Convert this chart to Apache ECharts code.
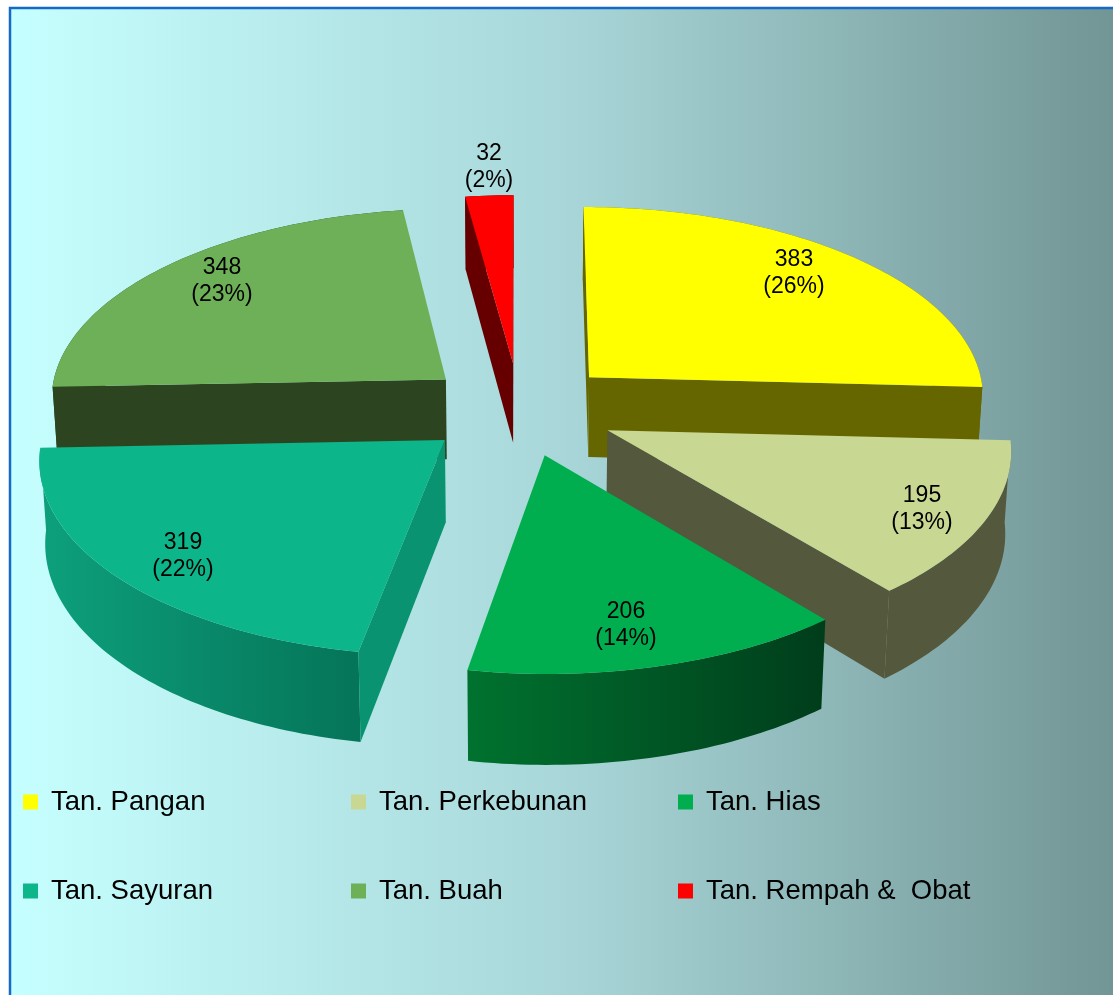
<!DOCTYPE html>
<html>
<head>
<meta charset="utf-8">
<style>
  html, body { margin: 0; padding: 0; background: #fff; }
  #chart { width: 1113px; height: 995px; }
</style>
<script src="https://cdn.jsdelivr.net/npm/echarts@6/dist/echarts.min.js"></script>
</head>
<body>
<div id="chart"></div>
<script>
const categories = ['Tan. Pangan', 'Tan. Perkebunan', 'Tan. Hias', 'Tan. Sayuran', 'Tan. Buah', 'Tan. Rempah &  Obat'];
const values = [383, 195, 206, 319, 348, 32];

const topColors = ['#ffff00', '#c8d792', '#00ae4f', '#0cb58a', '#6db058', '#ff0000'];
const radialColors = ['#666600', '#54583c', '#005c2a', '#0a9370', '#2c4520', '#660000'];
const wallLeft = ['#666600', '#54583c', '#00722f', '#0da07c', '#2c4520', '#660000'];
const wallRight = ['#666600', '#54583c', '#003d1b', '#057458', '#2c4520', '#660000'];
// back to front
const drawOrder = [5, 0, 4, 1, 3, 2];
const labelCenters = [[794, 273], [922, 509], [626, 625], [183, 556], [222, 281], [489, 167]];
const legendCells = [[23, 788], [351, 788], [678, 788], [23, 877], [351, 877], [678, 877]];

// perspective of the pie: unit radius disc seen from above
const cam = { cx: 519.5, cy: 409, sx: 397.5, sy: 190.7, depth: 0.0886, height: 81, shrink: 0.012, explode: 0.245 };
const fontFamily = '"Liberation Sans", Arial, sans-serif';

const total = values.reduce(function (a, b) { return a + b; }, 0);

function project(x, y, bottom) {
  const w = 1 + cam.depth * y;
  // the bottom face only narrows sideways
  const wx = w + (bottom ? cam.shrink : 0);
  return [
    cam.cx + cam.sx * x / wx,
    cam.cy - (cam.sy * y - (bottom ? cam.height : 0)) / w
  ];
}

function sliceAngles(idx) {
  let before = 0;
  for (let i = 0; i < idx; i++) before += values[i];
  return [before / total * Math.PI * 2, (before + values[idx]) / total * Math.PI * 2];
}

function renderSlice(idx, value) {
  const ang = sliceAngles(idx);
  const mid = (ang[0] + ang[1]) / 2;
  const ox = cam.explode * Math.sin(mid);
  const oy = cam.explode * Math.cos(mid);

  const rimTop = [];
  const rimBottom = [];
  const steps = Math.max(4, Math.ceil((ang[1] - ang[0]) / 0.02));
  for (let i = 0; i <= steps; i++) {
    const a = ang[0] + (ang[1] - ang[0]) * i / steps;
    const x = ox + Math.sin(a);
    const y = oy + Math.cos(a);
    rimTop.push(project(x, y, false));
    rimBottom.push(project(x, y, true));
  }
  const apexTop = project(ox, oy, false);
  const apexBottom = project(ox, oy, true);

  const children = [];
  children.push({
    type: 'polygon',
    shape: { points: rimTop.concat(rimBottom.slice().reverse()) },
    style: {
      fill: new echarts.graphic.LinearGradient(0, 0, 1, 0, [
        { offset: 0, color: wallLeft[idx] },
        { offset: 1, color: wallRight[idx] }
      ])
    }
  });

  // radial walls, only the ones turned to the viewer
  const startDx = rimTop[0][0] - apexTop[0];
  const endDx = rimTop[steps][0] - apexTop[0];
  if (startDx < 0) {
    children.push({
      type: 'polygon',
      shape: { points: [apexTop, rimTop[0], rimBottom[0], apexBottom] },
      style: { fill: radialColors[idx] }
    });
  }
  if (endDx > 0) {
    children.push({
      type: 'polygon',
      shape: { points: [apexTop, rimTop[steps], rimBottom[steps], apexBottom] },
      style: { fill: radialColors[idx] }
    });
  }

  children.push({
    type: 'polygon',
    shape: { points: [apexTop].concat(rimTop) },
    style: { fill: topColors[idx] }
  });

  children.push({
    type: 'text',
    style: {
      text: value + '\n(' + Math.round(value / total * 100) + '%)',
      x: labelCenters[idx][0],
      y: labelCenters[idx][1],
      align: 'center',
      verticalAlign: 'middle',
      fill: '#000',
      fontSize: 23,
      lineHeight: 27,
      fontFamily: fontFamily
    }
  });
  return { type: 'group', children: children };
}

const chart = echarts.init(document.getElementById('chart'));

const option = {
  animation: false,
  graphic: [{
    type: 'rect',
    z: -1,
    silent: true,
    shape: { x: 10, y: 8, width: 1130, height: 1010 },
    style: {
      fill: {
        type: 'linear', global: true, x: 10, y: 0, x2: 1113, y2: 0,
        colorStops: [
          { offset: 0, color: '#c6ffff' },
          { offset: 0.5, color: '#a9d7d9' },
          { offset: 1, color: '#729595' }
        ]
      },
      stroke: '#1569c7',
      lineWidth: 2.5
    }
  }],
  legend: categories.map(function (name, i) {
    return {
      data: [name],
      left: legendCells[i][0],
      top: legendCells[i][1],
      padding: 0,
      icon: 'rect',
      itemWidth: 15,
      itemHeight: 15,
      selectedMode: false,
      textStyle: {
        color: '#000',
        fontSize: 27.5,
        fontFamily: fontFamily,
        padding: [0, 0, 0, 8]
      }
    };
  }),
  series: drawOrder.map(function (idx, order) {
    return {
      type: 'custom',
      name: categories[idx],
      coordinateSystem: 'none',
      z: 2 + order,
      itemStyle: { color: topColors[idx] },
      data: [[values[idx]]],
      renderItem: function (params, api) {
        return renderSlice(idx, api.value(0));
      }
    };
  })
};

chart.setOption(option);
</script>
</body>
</html>
